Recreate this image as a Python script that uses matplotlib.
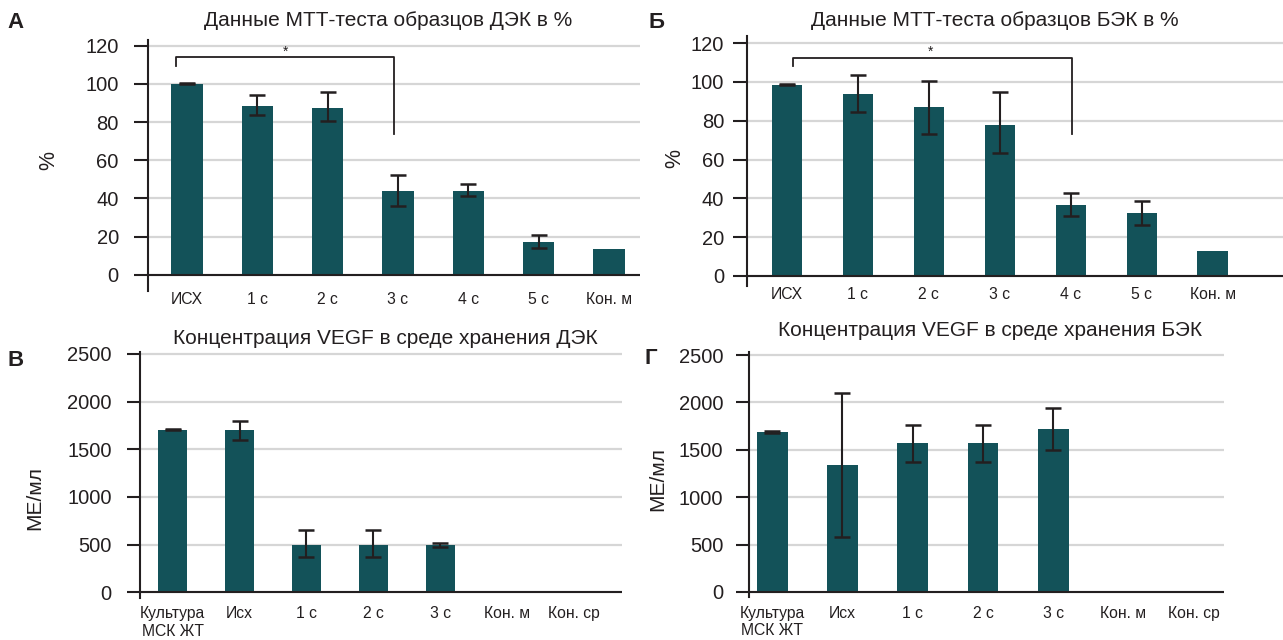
import numpy as np
import matplotlib
matplotlib.use("Agg")
import matplotlib.pyplot as plt

plt.rcParams["font.family"] = ["Liberation Sans", "DejaVu Sans"]

# ---- data ----
mtt_cats = ["ИСХ", "1 с", "2 с", "3 с", "4 с", "5 с", "Кон. м"]
dek_mtt = [100.0, 88.5, 87.5, 44.0, 44.0, 17.2, 13.5]
dek_mtt_lo = [100.0, 83.6, 80.5, 35.8, 41.4, 13.8, np.nan]
dek_mtt_hi = [100.5, 94.2, 95.5, 52.3, 47.7, 21.1, np.nan]

bek_mtt = [98.3, 93.8, 87.0, 77.8, 36.5, 32.5, 12.8]
bek_mtt_lo = [98.3, 84.6, 73.3, 63.6, 30.8, 26.2, np.nan]
bek_mtt_hi = [99.0, 103.4, 100.3, 95.0, 42.5, 38.6, np.nan]

vegf_cats = ["Культура\nМСК ЖТ", "Исх", "1 с", "2 с", "3 с", "Кон. м", "Кон. ср"]
dek_vegf = [1700, 1700, 495, 495, 495, 0, 0]
dek_vegf_lo = [1700, 1600, 370, 370, 480, np.nan, np.nan]
dek_vegf_hi = [1712, 1795, 655, 655, 515, np.nan, np.nan]

bek_vegf = [1690, 1340, 1570, 1570, 1715, 0, 0]
bek_vegf_lo = [1680, 580, 1375, 1375, 1500, np.nan, np.nan]
bek_vegf_hi = [1700, 2095, 1760, 1760, 1940, np.nan, np.nan]

BAR = "#135259"
INK = "#231f20"
GRID = "#d6d6d6"
W, H = 1283, 640


def rect(left, top, right, bottom):
    return [left / W, 1 - bottom / H, (right - left) / W, (bottom - top) / H]


def panel(fig, box, cats, vals, lo, hi, ylim, xlim, yticks, tick_pad, tick_len,
          xpad, width):
    ax = fig.add_axes(rect(*box))
    x = np.arange(len(cats))
    ax.bar(x, vals, width=width, color=BAR, zorder=3)
    vals_a = np.array(vals, dtype=float)
    lo_a = np.array(lo, dtype=float)
    hi_a = np.array(hi, dtype=float)
    ok = np.isfinite(lo_a)
    ax.errorbar(x[ok], vals_a[ok],
                yerr=[vals_a[ok] - lo_a[ok], hi_a[ok] - vals_a[ok]],
                fmt="none", ecolor=INK, elinewidth=1.5, capsize=5.5,
                capthick=1.8, zorder=4)
    ax.set_xlim(*xlim)
    ax.set_ylim(*ylim)
    ax.set_yticks(yticks)
    ax.set_xticks(x)
    ax.set_xticklabels(cats, fontsize=11.3, color=INK)
    ax.tick_params(axis="x", length=0, pad=xpad)
    ax.tick_params(axis="y", direction="out", length=tick_len, width=1.5,
                   color=INK, labelsize=14.5, labelcolor=INK, pad=tick_pad)
    ax.grid(axis="y", color=GRID, linewidth=1.6, zorder=0)
    ax.set_axisbelow(True)
    for s in ("top", "right", "bottom"):
        ax.spines[s].set_visible(False)
    ax.spines["left"].set_color(INK)
    ax.spines["left"].set_linewidth(1.5)
    ax.axhline(0, color=INK, linewidth=1.5, zorder=5)
    return ax


def bracket(ax, x0, x1, y_top, y0_end, y1_end, star_x, star_y):
    ax.plot([x0, x0, x1, x1], [y0_end, y_top, y_top, y1_end],
            color=INK, linewidth=1.3, zorder=5, clip_on=False)
    ax.text(star_x, star_y, "*", ha="center", va="center", fontsize=10,
            color=INK)


fig = plt.figure(figsize=(W / 100, H / 100), dpi=100)
fig.patch.set_facecolor("white")

ax_a = panel(fig, (148, 40, 640, 291), mtt_cats, dek_mtt, dek_mtt_lo,
             dek_mtt_hi, (-8.5, 123), (-0.555, 6.44),
             [0, 20, 40, 60, 80, 100, 120], 11, 10, 0.5, 0.447)
bracket(ax_a, -0.15, 2.94, 114, 109.5, 74, 1.4, 117)

ax_b = panel(fig, (747, 36, 1283, 286), mtt_cats, bek_mtt, bek_mtt_lo,
             bek_mtt_hi, (-5.2, 123.7), (-0.563, 6.99),
             [0, 20, 40, 60, 80, 100, 120], 6.5, 10, 0.5, 0.43)
bracket(ax_b, 0.08, 4.02, 112.2, 108.2, 73.2, 2.02, 115.5)

panel(fig, (140, 352, 622, 598), vegf_cats, dek_vegf, dek_vegf_lo,
      dek_vegf_hi, (-60, 2520), (-0.49, 6.72),
      [0, 500, 1000, 1500, 2000, 2500], 11, 9.5, 6, 0.43)

panel(fig, (749, 352, 1224, 597), vegf_cats, bek_vegf, bek_vegf_lo,
      bek_vegf_hi, (-53, 2532), (-0.33, 6.43),
      [0, 500, 1000, 1500, 2000, 2500], 9, 9.5, 6.5, 0.436)


def ftext(x, y, s, **kw):
    fig.text(x / W, 1 - y / H, s, color=INK, **kw)


# titles
ftext(388, 20, "Данные МТТ-теста образцов ДЭК в %", fontsize=15,
      ha="center", va="center")
ftext(995, 20, "Данные МТТ-теста образцов БЭК в %", fontsize=15,
      ha="center", va="center")
ftext(385, 338, "Концентрация VEGF в среде хранения ДЭК", fontsize=15,
      ha="center", va="center")
ftext(990, 330, "Концентрация VEGF в среде хранения БЭК", fontsize=15,
      ha="center", va="center")

# panel letters
ftext(16, 22, "А", fontsize=16, fontweight="bold", ha="center", va="center")
ftext(657, 22, "Б", fontsize=16, fontweight="bold", ha="center", va="center")
ftext(16, 360, "В", fontsize=16, fontweight="bold", ha="center", va="center")
ftext(651, 358, "Г", fontsize=16, fontweight="bold", ha="center", va="center")

# y labels
ftext(49, 161, "%", fontsize=15.5, rotation=90, ha="center", va="center")
ftext(675, 158, "%", fontsize=15.5, rotation=90, ha="center", va="center")
ftext(35, 498, "МЕ/мл", fontsize=15, rotation=90, ha="center", va="center")
ftext(658, 479, "МЕ/мл", fontsize=15, rotation=90, ha="center", va="center")

fig.savefig("out.png", dpi=100, facecolor="white")
